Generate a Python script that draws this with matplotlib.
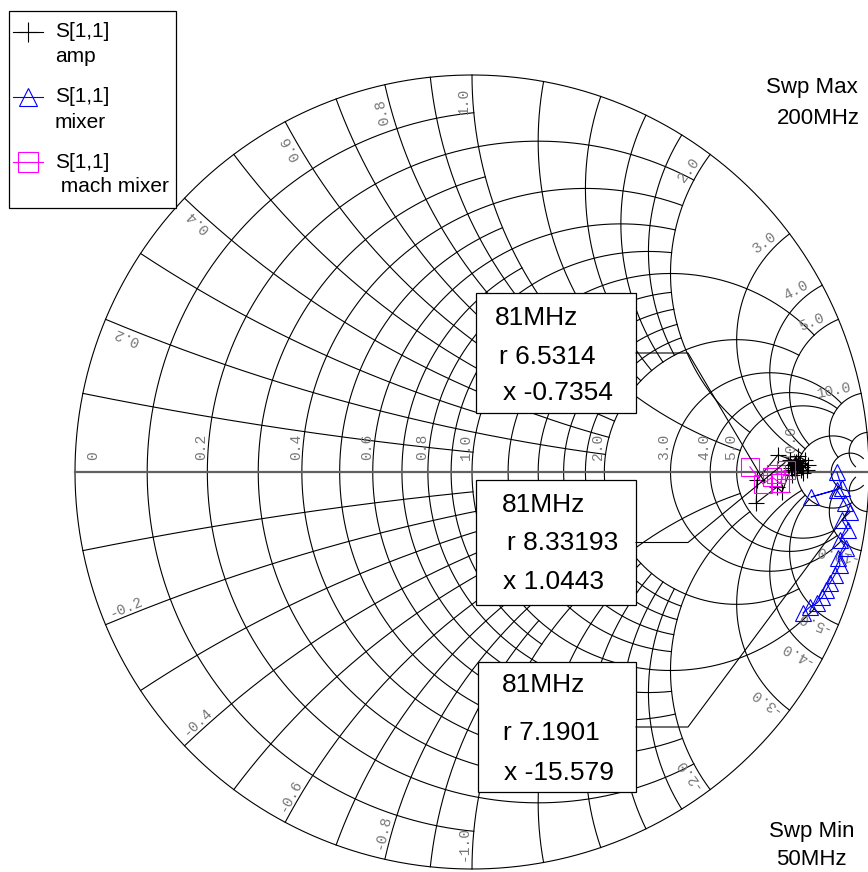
import numpy as np
import matplotlib.pyplot as plt
from matplotlib.patches import Rectangle

W, H = 868, 872
CX, CY, RAD = 472, 472, 397   # chart centre / radius in pixels

# grid: (value, limit of the other coordinate)
r_circles = [(0.1, 1), (0.2, 2), (0.3, 1), (0.4, 2), (0.5, 1), (0.6, 2), (0.7, 1),
             (0.8, 2), (0.9, 1), (1.0, 5), (1.2, 2), (1.4, 2), (1.6, 2), (1.8, 2),
             (2.0, 5), (3.0, 10), (4.0, 10), (5.0, 10), (10.0, 20), (20.0, 50)]
x_arcs = [(0.1, 1), (0.2, 2), (0.3, 1), (0.4, 2), (0.5, 1), (0.6, 2), (0.7, 1),
          (0.8, 2), (0.9, 1), (1.0, 5), (1.2, 2), (1.4, 2), (1.6, 2), (1.8, 2),
          (2.0, 5), (3.0, 10), (4.0, 10), (5.0, 10), (10.0, 20), (20.0, 50)]
r_labels = ['0', '0.2', '0.4', '0.6', '0.8', '1.0', '2.0', '3.0', '4.0', '5.0', '10.0']
x_labels = ['0.2', '0.4', '0.6', '0.8', '1.0', '2.0', '3.0', '4.0', '5.0', '10.0']

# S11 traces, reflection coefficient (re, im)
amp_re = [0.816, 0.831, 0.806, 0.839, 0.821, 0.796, 0.834, 0.811, 0.846, 0.801,
          0.826, 0.771, 0.718, 0.716, 0.768, 0.781, 0.804, 0.829, 0.813, 0.806,
          0.844, 0.822, 0.819]
amp_im = [0.025, 0.012, 0.005, 0.030, 0.040, 0.018, -0.003, 0.010, 0.018, 0.030,
          0.023, 0.043, -0.020, -0.078, -0.038, -0.050, 0.010, 0.005, 0.020, -0.008,
          0.005, 0.028, 0.015]
mixer_re = [0.919, 0.932, 0.854, 0.919, 0.940, 0.952, 0.932, 0.947, 0.927, 0.942,
            0.922, 0.927, 0.914, 0.902, 0.892, 0.882, 0.869, 0.851, 0.834]
mixer_im = [-0.000, -0.040, -0.063, -0.045, -0.078, -0.101, -0.121, -0.146, -0.171,
            -0.191, -0.217, -0.234, -0.259, -0.279, -0.297, -0.315, -0.330, -0.340,
            -0.355]
mach_re = [0.700, 0.733, 0.756, 0.776, 0.791, 0.766]
mach_im = [0.013, -0.030, -0.013, -0.028, 0.005, -0.005]

# marker readouts at 81 MHz: (r, x)
mk_r = [6.5314, 8.33193, 7.1901]
mk_x = [-0.7354, 1.0443, -15.579]
mk_freq = ['81MHz', '81MHz', '81MHz']


def P(px, py):
    return (px - CX) / RAD, (CY - py) / RAD


def gam(z):
    return (z - 1) / (z + 1)


fig = plt.figure(figsize=(W / 100, H / 100), dpi=100)
ax = fig.add_axes([0, 0, 1, 1])
x0, y1 = P(0, 0)
x1, y0 = P(W, H)
ax.set_xlim(x0, x1)
ax.set_ylim(y0, y1)
ax.axis('off')

lc = dict(color='black', lw=0.8, zorder=1)

# outer circle
t = np.linspace(0, 2 * np.pi, 1000)
ax.plot(np.cos(t), np.sin(t), **lc)

for r, lim in r_circles:
    xs = np.linspace(-lim, lim, 3000)
    g = gam(r + 1j * xs)
    ax.plot(g.real, g.imag, **lc)

for xv, lim in x_arcs:
    rs = np.linspace(0, lim, 3000)
    for s in (1, -1):
        g = gam(rs + 1j * s * xv)
        ax.plot(g.real, g.imag, **lc)

ax.plot([-1, 1], [0, 0], color='#606060', lw=1.6, zorder=2)

# labels
mono = dict(family='Liberation Mono', fontsize=10.5, color='#777777', zorder=3)
for lab in r_labels:
    r = float(lab)
    gx = gam(r)
    if r == 0:
        pos = gx + 22 / RAD
    else:
        pos = gx - 2 / RAD
    ax.text(pos, 12 / RAD, lab, rotation=90, rotation_mode='anchor',
            ha='left', va='baseline', **mono)

for lab in x_labels:
    xv = float(lab)
    for s in (1, -1):
        g = gam(1j * s * xv)
        th = np.angle(g)
        d = s * 4 / 372
        pos = 0.935 * np.exp(1j * (th + d))
        rot = np.degrees(th) % 180
        txt = lab if s > 0 else '-' + lab
        ax.text(pos.real, pos.imag, txt, rotation=rot, rotation_mode='anchor',
                ha='center', va='baseline', **mono)

# traces
ax.plot(amp_re, amp_im, color='black', lw=0.8, marker='+', ms=12, mew=0.8, zorder=5)
ax.plot(mixer_re, mixer_im, color='blue', lw=0.8, marker='^', ms=12, mfc='none',
        mew=0.8, zorder=5)
ax.plot(mach_re, mach_im, color='magenta', lw=0.8, marker='s', ms=13, mfc='none',
        mew=0.8, zorder=5)

# marker readout boxes
sans = dict(family='Liberation Sans', color='black', zorder=7)
boxes = [(476, 293, 160, 120, [(495, 318), (499, 357), (503, 393)]),
         (476, 480, 160, 125, [(502, 505), (507, 543), (503, 582)]),
         (478, 662, 158, 130, [(502, 685), (503, 733), (504, 773)])]
for i, (bx, by, bw, bh, tpos) in enumerate(boxes):
    xa, ya = P(bx, by + bh)
    ax.add_patch(Rectangle((xa, ya), bw / RAD, bh / RAD, facecolor='white',
                           edgecolor='black', lw=0.9, zorder=6))
    lines = [mk_freq[i], 'r %g' % mk_r[i], 'x %g' % mk_x[i]]
    for (tx, ty), s in zip(tpos, lines):
        ax.text(*P(tx, ty), s, fontsize=19, ha='left', va='center', **sans)
    # leader line to the marker point
    g = gam(mk_r[i] + 1j * mk_x[i])
    ey = by + bh / 2
    p1 = P(bx + bw, ey)
    p2 = P(688, ey)
    ax.plot([p1[0], p2[0], g.real], [p1[1], p2[1], g.imag], color='black',
            lw=0.8, zorder=6)

# legend
lx, ly = P(9, 208)
ax.add_patch(Rectangle((lx, ly), 167 / RAD, 197 / RAD, facecolor='white',
                       edgecolor='black', lw=0.9, zorder=6))
leg = [('black', '+', 'amp', 32), ('blue', '^', 'mixer', 97),
       ('magenta', 's', ' mach mixer', 162)]
for col, m, name, yy in leg:
    a, b = P(13, yy)
    c, _ = P(43, yy)
    mx, _ = P(28, yy)
    ax.plot([a, c], [b, b], color=col, lw=0.8, zorder=7)
    ax.plot([mx], [b], color=col, marker=m, ms=14 if m != '^' else 13,
            mfc='none', mew=0.8, zorder=7)
    ax.text(*P(55, yy), 'S[1,1]', fontsize=15, ha='left', va='center', **sans)
    ax.text(*P(55, yy + 25), name, fontsize=15, ha='left', va='center', **sans)

ax.text(*P(812, 88), 'Swp Max', fontsize=16, ha='center', va='center', **sans)
ax.text(*P(818, 118), '200MHz', fontsize=16, ha='center', va='center', **sans)
ax.text(*P(812, 831), 'Swp Min', fontsize=16, ha='center', va='center', **sans)
ax.text(*P(811, 859), '50MHz', fontsize=16, ha='center', va='center', **sans)

fig.savefig('out.png', dpi=100)
